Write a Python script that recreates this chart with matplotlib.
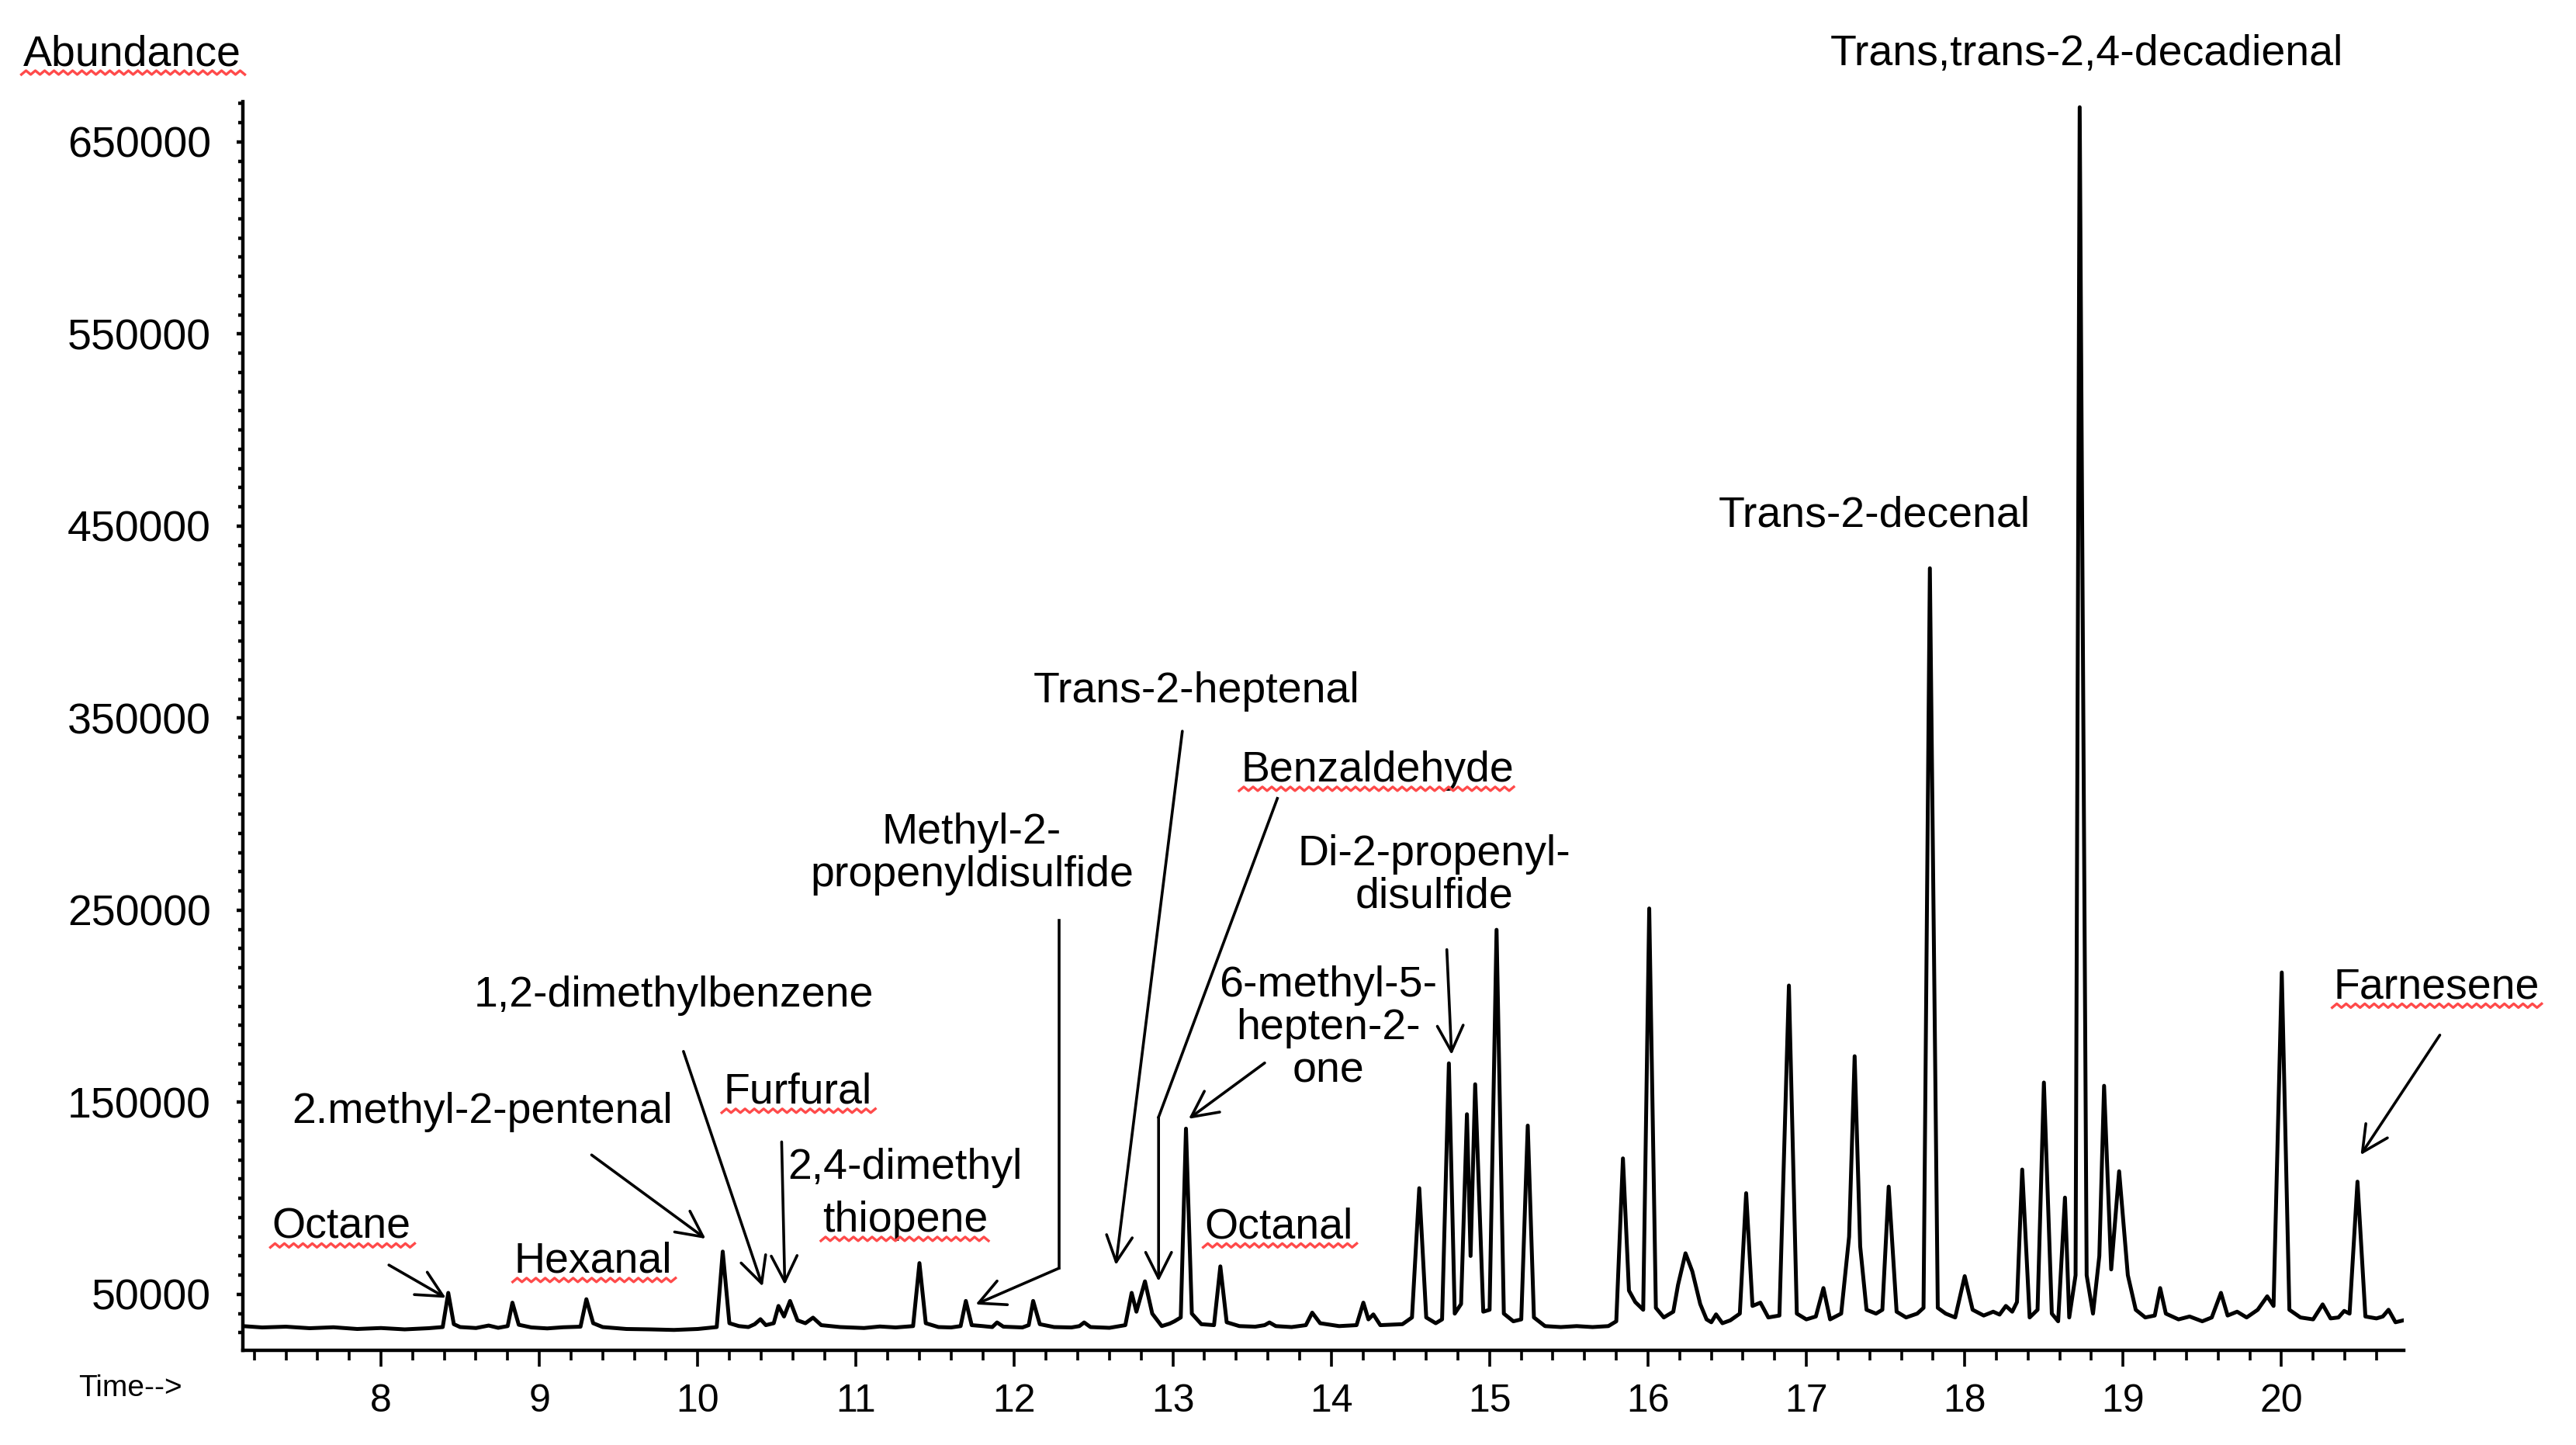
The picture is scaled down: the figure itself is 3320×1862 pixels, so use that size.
import numpy as np
import matplotlib.pyplot as plt
from matplotlib.lines import Line2D
from matplotlib.ticker import MultipleLocator, StrMethodFormatter
from matplotlib.transforms import IdentityTransform

plt.rcParams['font.family'] = ['Liberation Sans', 'DejaVu Sans']

# peak apexes (retention time in min, abundance)
peak_rt = [8.425, 8.83, 9.297, 10.158, 10.396, 10.51, 10.583, 10.728, 11.40, 11.693,
           11.89, 12.118, 12.44, 12.74, 12.824, 13.083, 13.30, 13.61, 13.88, 14.203,
           14.266, 14.556, 14.743, 14.857, 14.909, 15.044, 15.241, 15.842, 16.008, 16.237,
           16.43, 16.62, 16.71, 16.89, 17.108, 17.305, 17.52, 17.78, 18.00, 18.26,
           18.363, 18.50, 18.633, 18.726, 18.88, 18.975, 19.234, 19.618, 19.91, 20.002,
           20.26, 20.396, 20.48, 20.676]
peak_abund = [50800, 45700, 47500, 72300, 37100, 44000, 46600, 37900, 66300, 46600,
              35400, 46600, 35400, 50800, 56800, 136300, 64600, 35400, 40500, 45700,
              39600, 105300, 170300, 143800, 159400, 239800, 137900, 120800, 250900, 71400,
              39600, 102700, 45700, 210800, 53300, 174000, 106100, 428000, 59500, 44000,
              115000, 160300, 100400, 668000, 158600, 114100, 53300, 50800, 49000, 217600,
              44800, 41400, 108700, 42000]

# baseline, valleys and peak feet between the apexes
baseline_pts = [
    (7.13, 33500), (7.25, 32800), (7.40, 33200), (7.55, 32400), (7.70, 32900),
    (7.85, 32000), (8.00, 32500), (8.15, 31800), (8.30, 32400), (8.39, 33000),
    (8.46, 34500), (8.50, 33000), (8.60, 32500), (8.68, 33800), (8.74, 32600),
    (8.80, 33500), (8.87, 34200), (8.95, 32800), (9.05, 32300), (9.15, 32900),
    (9.26, 33200), (9.34, 35000), (9.40, 33000), (9.55, 32000), (9.70, 31800),
    (9.85, 31500), (10.00, 32000), (10.12, 33000), (10.20, 35000), (10.26, 33500),
    (10.32, 33000), (10.36, 34500), (10.43, 34000), (10.48, 35000), (10.545, 38500),
    (10.63, 36500), (10.68, 35000), (10.78, 34000), (10.90, 33000), (11.05, 32500),
    (11.15, 33300), (11.25, 32800), (11.36, 33500), (11.44, 35000), (11.52, 33000),
    (11.60, 32800), (11.66, 33500), (11.73, 34000), (11.80, 33500), (11.86, 33000),
    (11.93, 33200), (12.05, 32800), (12.09, 34000), (12.16, 34500), (12.25, 33000),
    (12.36, 32800), (12.41, 33500), (12.48, 33000), (12.60, 32600), (12.70, 34000),
    (12.77, 41000), (12.87, 40000), (12.93, 33500), (12.98, 34800), (13.01, 36000),
    (13.05, 38000), (13.12, 40000), (13.18, 34500), (13.26, 34000), (13.34, 35500),
    (13.42, 33500), (13.52, 33200), (13.58, 34000), (13.65, 33500), (13.75, 33000),
    (13.84, 34000), (13.93, 35000), (14.05, 33500), (14.16, 34000), (14.235, 37000),
    (14.31, 34000), (14.45, 34500), (14.51, 38000), (14.60, 38000), (14.66, 35000),
    (14.70, 37000), (14.78, 40000), (14.82, 45000), (14.88, 70000), (14.96, 41000),
    (15.00, 42000), (15.09, 40000), (15.15, 36000), (15.20, 37000), (15.28, 38000),
    (15.35, 33500), (15.45, 33000), (15.55, 33500), (15.65, 33000), (15.75, 33500),
    (15.80, 36000), (15.88, 52000), (15.92, 46000), (15.97, 42000), (16.05, 43000),
    (16.10, 38000), (16.16, 41000), (16.19, 55000), (16.28, 62000), (16.33, 45000),
    (16.37, 37000), (16.40, 35500), (16.47, 35000), (16.52, 36500), (16.58, 40000),
    (16.66, 44000), (16.76, 38000), (16.83, 39000), (16.94, 40000), (17.00, 37000),
    (17.06, 38500), (17.15, 37000), (17.22, 40000), (17.27, 80000), (17.34, 75000),
    (17.38, 42000), (17.44, 40000), (17.48, 42000), (17.57, 41000), (17.63, 38000),
    (17.70, 40000), (17.74, 43000), (17.83, 43000), (17.88, 40000), (17.94, 38000),
    (18.05, 42000), (18.12, 39000), (18.18, 41000), (18.22, 39500), (18.30, 41000),
    (18.33, 46000), (18.41, 38000), (18.46, 42000), (18.55, 40000), (18.59, 36000),
    (18.66, 38000), (18.70, 60000), (18.77, 60000), (18.81, 40000), (18.85, 70000),
    (18.925, 63000), (19.03, 60000), (19.08, 42000), (19.14, 38000), (19.20, 39000),
    (19.27, 40000), (19.35, 37000), (19.42, 38500), (19.50, 36000), (19.56, 38000),
    (19.66, 39000), (19.72, 41000), (19.78, 38000), (19.85, 42000), (19.95, 44000),
    (20.05, 42000), (20.12, 38000), (20.20, 37000), (20.31, 37500), (20.36, 38000),
    (20.43, 40000), (20.53, 38500), (20.60, 37500), (20.64, 38500), (20.72, 35500),
    (20.77, 36500),
]

x_ticks = list(range(8, 21))
y_ticks = [50000, 150000, 250000, 350000, 450000, 550000, 650000]

base_rt, base_abund = zip(*baseline_pts)
rt = np.concatenate([peak_rt, base_rt])
ab = np.concatenate([peak_abund, base_abund])
order = np.argsort(rt)

fig = plt.figure(figsize=(16.6, 9.31), dpi=200)
ax = fig.add_axes([0.0944, 0.0654, 0.8386, 0.8641])
ax.plot(rt[order], ab[order], color='black', lw=1.8, solid_joinstyle='round')

ax.set_xlim(7.13, 20.77)
ax.set_ylim(20800, 670800)
ax.spines['top'].set_visible(False)
ax.spines['right'].set_visible(False)
ax.spines['left'].set_linewidth(1.6)
ax.spines['bottom'].set_linewidth(1.6)
ax.set_xticks(x_ticks)
ax.xaxis.set_minor_locator(MultipleLocator(0.2))
ax.set_yticks(y_ticks)
ax.yaxis.set_minor_locator(MultipleLocator(10000))
ax.yaxis.set_major_formatter(StrMethodFormatter('{x:.0f}'))
ax.tick_params(axis='x', which='major', length=7.5, width=1.3, pad=8, labelsize=18)
ax.tick_params(axis='x', which='minor', length=4.5, width=1.3)
ax.tick_params(axis='y', which='major', length=3, width=1.6, pad=12, labelsize=20)
ax.tick_params(axis='y', which='minor', length=2, width=1.6)

abund_lbl = fig.text(0.0089, 0.9624, 'Abundance', fontsize=20, ha='left', va='center')
fig.text(0.0306, 0.039, 'Time-->', fontsize=14, ha='left', va='center')

lab = dict(fontsize=20, ha='center', va='center', linespacing=1.08)


def arrow(tip, tail):
    ax.annotate('', xy=tip, xytext=tail,
                arrowprops=dict(arrowstyle='->,head_length=0.6,head_width=0.3',
                                lw=1.3, color='black', shrinkA=0, shrinkB=0,
                                mutation_scale=20))


t_octane = ax.text(7.75, 85000, 'Octane', **lab)
arrow((8.41, 48200), (8.05, 65300))
t_hexanal = ax.text(9.34, 67000, 'Hexanal', **lab)
ax.text(8.64, 144800, '2.methyl-2-pentenal', **lab)
arrow((10.05, 79000), (9.33, 122600))
ax.text(9.85, 205600, '1,2-dimethylbenzene', **lab)
arrow((10.41, 54200), (9.91, 176500))
t_furfural = ax.text(10.63, 155100, 'Furfural', **lab)
arrow((10.55, 55000), (10.53, 129400))
ax.text(11.31, 115800, '2,4-dimethyl', **lab)
t_thio = ax.text(11.31, 88400, 'thiopene', **lab)
ax.text(11.73, 279100, 'Methyl-2-\npropenyldisulfide', **lab)
ax.plot([12.28, 12.28], [244900, 63600], color='black', lw=1.3)
arrow((11.755, 44800), (12.28, 63600))
ax.text(13.15, 363800, 'Trans-2-heptenal', **lab)
arrow((12.64, 65300), (13.06, 343200))
t_benz = ax.text(14.29, 322700, 'Benzaldehyde', **lab)
ax.plot([13.66, 12.91], [308200, 142300], color='black', lw=1.3)
arrow((12.91, 56800), (12.91, 142300))
ax.text(14.65, 268000, 'Di-2-propenyl-\ndisulfide', **lab)
arrow((14.76, 174800), (14.73, 229500))
ax.text(13.98, 188500, '6-methyl-5-\nhepten-2-\none', **lab)
arrow((13.10, 141400), (13.58, 170500))
t_octanal = ax.text(13.67, 85000, 'Octanal', **lab)
ax.text(17.43, 455300, 'Trans-2-decenal', **lab)
ax.text(18.77, 695600, 'Trans,trans-2,4-decadienal', **lab)
t_farn = ax.text(20.98, 209800, 'Farnesene', **lab)
arrow((20.50, 122600), (21.00, 185000))

# red spell-check squiggles under some of the words
fig.canvas.draw()
renderer = fig.canvas.get_renderer()
for t in [abund_lbl, t_octane, t_hexanal, t_furfural, t_thio, t_benz, t_octanal, t_farn]:
    bb = t.get_window_extent(renderer)
    xs = np.arange(bb.x0 - 2, bb.x1 + 6, 6.0)
    ys = bb.y0 + 5 * (np.arange(len(xs)) % 2)
    fig.add_artist(Line2D(xs, ys, color='#ff4a4a', lw=1.2, transform=IdentityTransform()))

fig.savefig('out.png', dpi=200)
